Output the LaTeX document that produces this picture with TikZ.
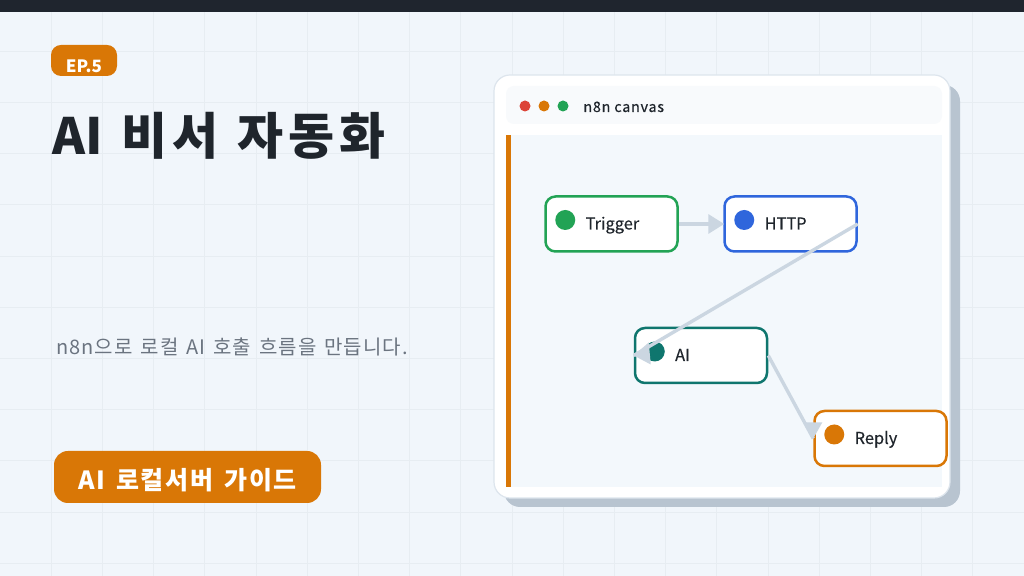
\documentclass[tikz,border=0pt]{standalone}
\usepackage{fontspec}
\setmainfont{Noto Sans CJK KR}
\newfontfamily\medfont[FakeBold=0.4]{Noto Sans CJK KR}
\usetikzlibrary{positioning,arrows.meta}

\definecolor{cpage}{HTML}{F1F6FB}
\definecolor{cgrid}{HTML}{E7EDF2}
\definecolor{cbar}{HTML}{1F252E}
\definecolor{cink}{HTML}{1F252C}
\definecolor{cmuted}{HTML}{6B7480}
\definecolor{corange}{HTML}{D97706}
\definecolor{cgreen}{HTML}{22A355}
\definecolor{cblue}{HTML}{2F66DC}
\definecolor{cteal}{HTML}{0F766E}
\definecolor{cred}{HTML}{DC4438}
\definecolor{cshadow}{HTML}{B8C4D0}
\definecolor{cline}{HTML}{CBD6E1}
\definecolor{cedge}{HTML}{DDE5ED}
\definecolor{chead}{HTML}{F8FAFC}
\definecolor{ccanvas}{HTML}{F3F8FC}

\begin{document}
\begin{tikzpicture}[x=0.5pt, y=-0.5pt]

	\tikzset{
	flowbox/.style={draw, fill=white, line width=1.25pt, rounded corners=5pt, minimum width=66pt, minimum height=27.5pt, inner sep=0pt},
	flowdot/.style={circle, minimum size=10pt, inner sep=0pt},
	flowtext/.style={anchor=west, inner sep=0pt, text=cink, font=\medfont\fontsize{8.2}{10}\selectfont, text height=6pt, text depth=0.5pt},
	flowline/.style={cline, line width=1.7pt},
	flowarrow/.style={flowline, -{Triangle[length=8pt,width=9.5pt]}, shorten >=-0.5pt},
	flowhead/.style={fill=cline},
	windot/.style={circle, minimum size=5.5pt, inner sep=0pt},
	badge/.style={fill=corange, inner sep=0pt},
	gridline/.style={cgrid, line width=0.4pt}
	}

	\useasboundingbox (0,0) rectangle (1024,576);

	% Background
	\fill[cpage] (0,0) rectangle (1024,576);
	\foreach \gx in {1,...,19} \draw[gridline] (\gx*51.2,0) -- (\gx*51.2,576);
	\foreach \gy in {1,...,11} \draw[gridline] (0,\gy*51.2) -- (1024,\gy*51.2);
	\fill[cbar] (0,0) rectangle (1024,12);

	% Left column
	\node[badge, rounded corners=5pt, minimum width=33pt, minimum height=15.5pt] (epbadge) at (84,60.5) {};
	\node[text=white, font=\bfseries\fontsize{8.5}{11}\selectfont, inner sep=0pt] (eptext) at (84,66) {EP.5};
	\node[anchor=base west, inner sep=0pt, text=cink, font=\bfseries\fontsize{25}{30}\selectfont] (title) at (52,155) {\spaceskip=9.5pt AI {\addfontfeature{LetterSpace=10}비서 자동화}};
	\node[anchor=base west, inner sep=0pt, text=cmuted, font=\fontsize{10}{12}\selectfont] (subtitle) at (56,355) {\addfontfeature{LetterSpace=5}\spaceskip=4pt n8n으로 로컬 AI 호출 흐름을 만듭니다.};
	\node[badge, rounded corners=7pt, minimum width=133.5pt, minimum height=26pt] (guidebadge) at (187.5,477) {};
	\node[text=white, font=\bfseries\fontsize{12.5}{15}\selectfont, inner sep=0pt] (guidetext) at (187.5,480) {\addfontfeature{LetterSpace=7}\spaceskip=5.5pt AI 로컬서버 가이드};

	% Window
	\fill[cshadow, rounded corners=8pt] (504,85) rectangle (960,507);
	\draw[cedge, fill=white, line width=0.6pt, rounded corners=8pt] (494,75) rectangle (950,498);
	\fill[chead, rounded corners=4pt] (506,86) rectangle (942,124);
	\fill[ccanvas] (506,135) rectangle (942,487);
	\fill[corange] (506,135) rectangle (511,487);

	\node[windot, fill=cred] (dotred) at (525,106) {};
	\node[windot, fill=corange, right of=dotred, node distance=9.5pt] (dotorange) {};
	\node[windot, fill=cgreen, right of=dotorange, node distance=9.5pt] (dotgreen) {};
	\node[anchor=base west, inner sep=0pt, text=cink, font=\medfont\fontsize{7.2}{9}\selectfont] (wintitle) at (583,112) {\addfontfeature{LetterSpace=5}n8n canvas};

	% Nodes
	\node[flowbox, draw=cgreen] (trigger) at (611.5,224) {};
	\node[flowbox, draw=cblue, node distance=89.5pt, right of=trigger] (http) {};
	\node[flowbox, draw=cteal, node distance=65.75pt, below of=trigger, xshift=44.75pt] (ai) {};
	\node[flowbox, draw=corange, node distance=41.5pt, below of=ai, xshift=89.75pt] (reply) {};

	\node[flowdot, fill=cgreen] (triggerdot) at ([xshift=10.5pt,yshift=2pt]trigger.west) {};
	\node[flowdot, fill=cblue] (httpdot) at ([xshift=10.5pt,yshift=2pt]http.west) {};
	\node[flowdot, fill=cteal] (aidot) at ([xshift=10.5pt,yshift=2pt]ai.west) {};
	\node[flowdot, fill=corange] (replydot) at ([xshift=10.5pt,yshift=2pt]reply.west) {};

	\node[flowtext] (triggertext) at ([xshift=20.5pt]trigger.west) {Trigger};
	\node[flowtext] (httptext) at ([xshift=20.5pt]http.west) {HTTP};
	\node[flowtext] (aitext) at ([xshift=20.5pt]ai.west) {AI};
	\node[flowtext] (replytext) at ([xshift=20.5pt]reply.west) {Reply};

	% Lines
	\draw[flowarrow] (trigger.east) -- (http.west);
	\draw[flowline] (http.east) -- (ai.west);
	\draw[flowline] (ai.east) -- (reply.west);

	% Heads
	\path[flowhead] (ai.west) -- ++(15,-13) -- ++(2,22) -- cycle;
	\path[flowhead] (reply.west) -- ++(-8,-16) -- ++(17,0) -- cycle;

	\end{tikzpicture}
\end{document}
